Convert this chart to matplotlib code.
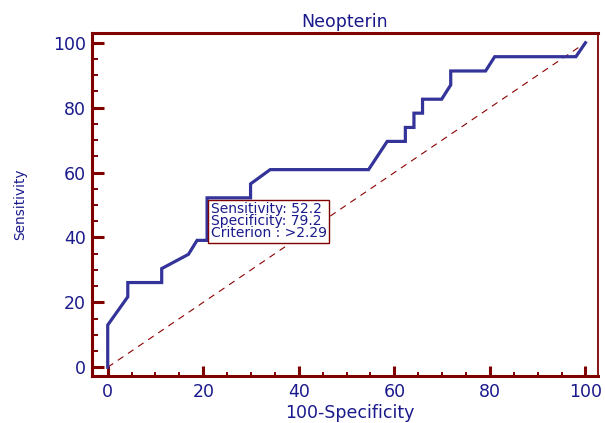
import numpy as np
import matplotlib
matplotlib.use('Agg')
import matplotlib.pyplot as plt
from matplotlib.ticker import MultipleLocator

# ROC curve points (100-Specificity, Sensitivity)
fpr = [0, 0, 4.2, 4.2, 11.3, 11.3, 16.9, 18.7, 20.8, 20.8, 29.9, 29.9, 34.0, 54.6,
       58.5, 62.3, 62.3, 64.1, 64.1, 65.9, 65.9, 69.9, 71.8, 71.8, 79.1, 81.0, 98.0, 100]
tpr = [0, 13.0, 21.7, 26.1, 26.1, 30.4, 34.8, 39.1, 39.1, 52.2, 52.2, 56.5, 60.9, 60.9,
       69.6, 69.6, 73.9, 73.9, 78.3, 78.3, 82.6, 82.6, 87.0, 91.3, 91.3, 95.7, 95.7, 100]

crit_x = 20.8
crit_y = 52.2
box_lines = ["Sensitivity: 52.2", "Specificity: 79.2", "Criterion : >2.29"]

maroon = '#800000'
navy = '#1a1a8c'
curve_col = '#333399'

plt.rcParams['font.family'] = ['DejaVu Sans']

fig = plt.figure(figsize=(6.05, 4.23), dpi=100)
ax = fig.add_axes([0.1516, 0.110, 0.8374, 0.8127])

# reference diagonal
ax.plot([0, 100], [0, 100], color='#8b0000', lw=0.8, dashes=(6, 5))
ax.plot(fpr, tpr, color=curve_col, lw=2.3, solid_joinstyle='miter', zorder=3)

ax.set_xlim(-3.35, 102.7)
ax.set_ylim(-2.85, 103.1)

ax.xaxis.set_major_locator(MultipleLocator(20))
ax.xaxis.set_minor_locator(MultipleLocator(5))
ax.yaxis.set_major_locator(MultipleLocator(20))
ax.yaxis.set_minor_locator(MultipleLocator(5))

for side in ['left', 'bottom', 'top']:
    ax.spines[side].set_color(maroon)
    ax.spines[side].set_linewidth(2.2)
ax.spines['right'].set_color(maroon)
ax.spines['right'].set_linewidth(1.3)

ax.tick_params(axis='y', which='major', direction='in', length=8.6, width=2.2,
               color=maroon, labelcolor=navy, labelsize=12.5, pad=4)
ax.tick_params(axis='y', which='minor', direction='in', length=4.3, width=1.4, color=maroon)
ax.tick_params(axis='x', which='major', direction='in', length=7.2, width=2.2,
               color=maroon, labelcolor=navy, labelsize=12.5, pad=5)
ax.tick_params(axis='x', which='minor', direction='in', length=3.0, width=1.4, color=maroon)

ax.set_title('Neopterin', color=navy, fontsize=12.5, pad=4)
ax.set_xlabel('100-Specificity', color=navy, fontsize=12.5)
ax.xaxis.set_label_coords(0.51, -0.08)
ax.xaxis.label.set_va('top')
ax.set_ylabel('Sensitivity', color=navy, fontsize=9.8)
ax.yaxis.set_label_coords(-0.128, 0.5)

# criterion box, its corner sits on the curve
pad_pt = 1.6
ax.annotate('\n'.join(box_lines), xy=(crit_x, crit_y), xytext=(pad_pt + 1.0, -(pad_pt + 1.2)),
            textcoords='offset points', ha='left', va='top', fontsize=10,
            color=navy, linespacing=0.85, zorder=5,
            bbox=dict(boxstyle='square,pad=0.16', fc='white', ec=maroon, lw=1.0))

fig.savefig('out.png', dpi=100)
